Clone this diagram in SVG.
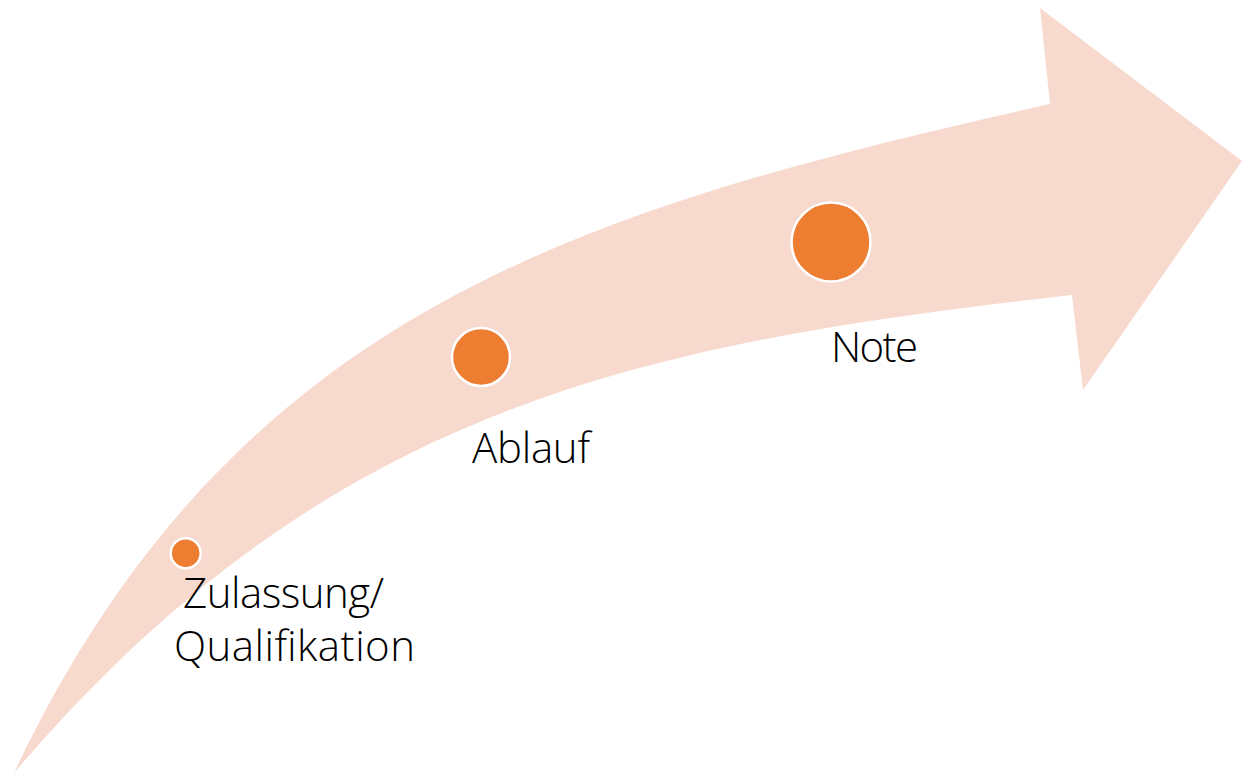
<svg xmlns="http://www.w3.org/2000/svg" width="1245" height="775" viewBox="0 0 1245 775">
<style>
.lbl{font-family:"Open Sans","Noto Sans",sans-serif;font-weight:300;font-size:42px;fill:#000;text-anchor:middle}
.dot{fill:#ED7D31;stroke:#FFFFFF;stroke-width:2.5}
</style>
<rect width="1245" height="775" fill="#FFFFFF"/>
<g id="connectors">
<path id="arrow" d="M14,773 C234,308 584.5,209 1050,104 L1040,8 L1242,161 L1083,390 L1072,295 C649.6,343 330,401 14,773 Z" fill="#F8D9CE"/>
</g>
<g id="node-zulassung">
<circle class="dot" cx="185.7" cy="553.3" r="15"/>
<text class="lbl" x="283.5" y="608" textLength="201" lengthAdjust="spacing">Zulassung/</text>
<text class="lbl" x="294.5" y="661" textLength="241" lengthAdjust="spacing">Qualifikation</text>
</g>
<g id="node-ablauf">
<circle class="dot" cx="481" cy="357" r="29"/>
<text class="lbl" x="531" y="463" textLength="118" lengthAdjust="spacing">Ablauf</text>
</g>
<g id="node-note">
<circle class="dot" cx="831" cy="242" r="39.5"/>
<text class="lbl" x="874.5" y="362" textLength="87" lengthAdjust="spacing">Note</text>
</g>
</svg>
